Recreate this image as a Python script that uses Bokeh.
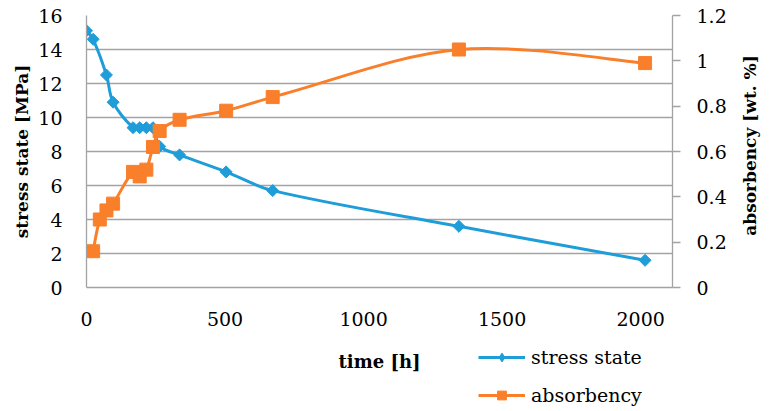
import math
import numpy as np
from bokeh.plotting import figure
from bokeh.layouts import column, row
from bokeh.models import Range1d, LinearAxis, FixedTicker, Legend, LegendItem
from bokeh.core.properties import value
from bokeh.embed import file_html
from bokeh.resources import INLINE

# ---- data ----
time_stress = [0, 24, 72, 96, 168, 192, 216, 240, 264, 336, 504, 672, 1344, 2016]
stress = [15.1, 14.6, 12.5, 10.9, 9.4, 9.4, 9.4, 9.4, 8.3, 7.8, 6.8, 5.7, 3.6, 1.6]
time_abs = [24, 48, 72, 96, 168, 192, 216, 240, 264, 336, 504, 672, 1344, 2016]
absorb = [0.16, 0.30, 0.34, 0.37, 0.51, 0.49, 0.52, 0.62, 0.69, 0.74, 0.78, 0.84, 1.05, 0.99]

x_ticks = [0, 500, 1000, 1500, 2000]
x_labels = ["0", "500", "1000", "1500", "2000"]
y_ticks = [0, 2, 4, 6, 8, 10, 12, 14, 16]
y_labels = ["0", "2", "4", "6", "8", "10", "12", "14", "16"]
y2_ticks = [0, 0.2, 0.4, 0.6, 0.8, 1, 1.2]
y2_labels = ["0", "0.2", "0.4", "0.6", "0.8", "1", "1.2"]

series_names = ["stress state", "absorbency"]
x_title = "time [h]"
y_title = "stress state [MPa]"
y2_title = "absorbency [wt. %]"

BLUE = "#1f9dd9"
ORANGE = "#f97f2b"
GRID = "#a3a3a3"
FONT = "DejaVu Serif"

W = 735          # main plot width (right title strip added beside it)
W3 = 29          # right title strip
X_MAX = 2115
Y_MAX = 16
Y2_MAX = 1.2
FRAME_L, FRAME_T, FRAME_R, FRAME_B = 86, 15, 672, 287
H1 = 340
H2 = 68


def smooth_segments(xs, ys, sx, sy):
    """Bezier control points (Excel-like smoothing), tangent scaled by chord lengths."""
    x = np.asarray(xs, dtype=float)
    y = np.asarray(ys, dtype=float)
    n = len(x)
    d = np.hypot(np.diff(x) * sx, np.diff(y) * sy)
    seg = dict(x0=[], y0=[], x1=[], y1=[], cx0=[], cy0=[], cx1=[], cy1=[])
    for i in range(n - 1):
        if i == 0:
            fo = 1 / 6
            tx, ty = x[1] - x[0], y[1] - y[0]
        else:
            fo = d[i] / (3 * (d[i - 1] + d[i]))
            tx, ty = x[i + 1] - x[i - 1], y[i + 1] - y[i - 1]
        cx0, cy0 = x[i] + tx * fo, y[i] + ty * fo
        j = i + 1
        if j == n - 1:
            fi = 1 / 6
            ux, uy = x[j] - x[j - 1], y[j] - y[j - 1]
        else:
            fi = d[j - 1] / (3 * (d[j - 1] + d[j]))
            ux, uy = x[j + 1] - x[j - 1], y[j + 1] - y[j - 1]
        cx1, cy1 = x[j] - ux * fi, y[j] - uy * fi
        seg["x0"].append(x[i]); seg["y0"].append(y[i])
        seg["x1"].append(x[j]); seg["y1"].append(y[j])
        seg["cx0"].append(cx0); seg["cy0"].append(cy0)
        seg["cx1"].append(cx1); seg["cy1"].append(cy1)
    return seg


p = figure(width=W, height=H1, output_backend="svg", toolbar_location=None,
           x_range=Range1d(0, X_MAX), y_range=Range1d(0, Y_MAX),
           min_border_left=FRAME_L, min_border_top=FRAME_T,
           min_border_right=W - FRAME_R, min_border_bottom=H1 - FRAME_B)
p.extra_y_ranges = {"abs": Range1d(0, Y2_MAX)}
p.outline_line_color = None

# grid
p.xgrid.visible = False
p.ygrid.ticker = FixedTicker(ticks=y_ticks)
p.ygrid.grid_line_color = GRID
p.ygrid.grid_line_width = 1.3

# axes
xa = p.xaxis[0]
xa.ticker = FixedTicker(ticks=x_ticks)
xa.major_label_overrides = dict(zip(x_ticks, x_labels))
ya = p.yaxis[0]
ya.ticker = FixedTicker(ticks=y_ticks)
ya.major_label_overrides = dict(zip(y_ticks, y_labels))
ya.axis_label = y_title

ya2 = LinearAxis(y_range_name="abs", ticker=FixedTicker(ticks=y2_ticks))
ya2.major_label_overrides = dict(zip(y2_ticks, y2_labels))
p.add_layout(ya2, "right")

for ax in (xa, ya, ya2):
    ax.axis_line_color = GRID
    ax.axis_line_width = 1.3
    ax.minor_tick_line_color = None
    ax.major_label_text_font = FONT
    ax.major_label_text_font_size = "19px"
    ax.major_label_text_color = "black"
    ax.axis_label_text_font = FONT
    ax.axis_label_text_font_style = "bold"
    ax.axis_label_text_font_size = "17px"
    ax.axis_label_text_color = "black"

xa.major_tick_line_color = None
xa.major_tick_out = 0
xa.major_label_standoff = 24
ya.major_tick_line_color = None
ya.major_tick_out = 0
ya.major_label_standoff = 24
ya.axis_label_standoff = 3
ya2.major_tick_line_color = GRID
ya2.major_tick_line_width = 1.3
ya2.major_tick_in = 0
ya2.major_tick_out = 8
ya2.major_label_standoff = 16

# pixel scales for smoothing
sx = (FRAME_R - FRAME_L) / X_MAX
sy1 = (FRAME_B - FRAME_T) / Y_MAX
sy2 = (FRAME_B - FRAME_T) / Y2_MAX

sb = smooth_segments(time_stress, stress, sx, sy1)
p.bezier(source=sb, x0="x0", y0="y0", x1="x1", y1="y1", cx0="cx0", cy0="cy0",
         cx1="cx1", cy1="cy1", line_color=BLUE, line_width=3)
p.scatter(time_stress, stress, marker="square", angle=np.pi / 4, size=8.5,
          fill_color=BLUE, line_color=BLUE)

so = smooth_segments(time_abs, absorb, sx, sy2)
p.bezier(source=so, x0="x0", y0="y0", x1="x1", y1="y1", cx0="cx0", cy0="cy0",
         cx1="cx1", cy1="cy1", line_color=ORANGE, line_width=3, y_range_name="abs")
p.scatter(time_abs, absorb, marker="square", size=13, fill_color=ORANGE,
          line_color=ORANGE, y_range_name="abs")

# ---- lower strip: x-axis title and legend (frame aligned with main frame) ----
p2 = figure(width=W, height=H2, output_backend="svg", toolbar_location=None,
            x_range=Range1d(FRAME_L, FRAME_R), y_range=Range1d(0, H2),
            x_axis_type=None, y_axis_type=None,
            min_border_left=FRAME_L, min_border_right=W - FRAME_R,
            min_border_top=0, min_border_bottom=0)
p2.outline_line_color = None
p2.xgrid.visible = False
p2.ygrid.visible = False

p2.text(x=[(FRAME_L + FRAME_R) / 2], y=[H2 - 21], text=[x_title],
        text_align="center", text_baseline="middle",
        text_font=value(FONT), text_font_style="bold", text_font_size="18px",
        text_color="black")

l1 = p2.line(x=[np.nan, np.nan], y=[np.nan, np.nan], line_color=BLUE, line_width=3)
m1 = p2.scatter(x=[np.nan], y=[np.nan], marker="diamond", size=15,
                fill_color=BLUE, line_color=BLUE)
l2 = p2.line(x=[np.nan, np.nan], y=[np.nan, np.nan], line_color=ORANGE, line_width=3)
m2 = p2.scatter(x=[np.nan], y=[np.nan], marker="square", size=10,
                fill_color=ORANGE, line_color=ORANGE)

legend = Legend(items=[LegendItem(label=series_names[0], renderers=[l1, m1]),
                       LegendItem(label=series_names[1], renderers=[l2, m2])],
                location=(478 - FRAME_L, 2), orientation="vertical",
                border_line_color=None, background_fill_alpha=0,
                padding=0, margin=0, spacing=16, glyph_width=47, glyph_height=22,
                label_height=22, label_standoff=6,
                label_text_font=FONT, label_text_font_size="19px",
                label_text_color="black")
p2.add_layout(legend)

# ---- right strip: secondary axis title, reading bottom-to-top ----
H3 = H1 + H2
p3 = figure(width=W3, height=H3, output_backend="svg", toolbar_location=None,
            x_range=Range1d(0, W3), y_range=Range1d(0, H3),
            x_axis_type=None, y_axis_type=None,
            min_border_left=0, min_border_right=0,
            min_border_top=0, min_border_bottom=0)
p3.outline_line_color = None
p3.xgrid.visible = False
p3.ygrid.visible = False
p3.text(x=[W3 / 2], y=[H3 - 145], text=[y2_title], angle=math.pi / 2,
        text_align="center", text_baseline="middle",
        text_font=value(FONT), text_font_style="bold", text_font_size="17px",
        text_color="black")

layout = row(column(p, p2, spacing=0), p3, spacing=0)
open("out.html", "w").write(file_html(layout, INLINE))
